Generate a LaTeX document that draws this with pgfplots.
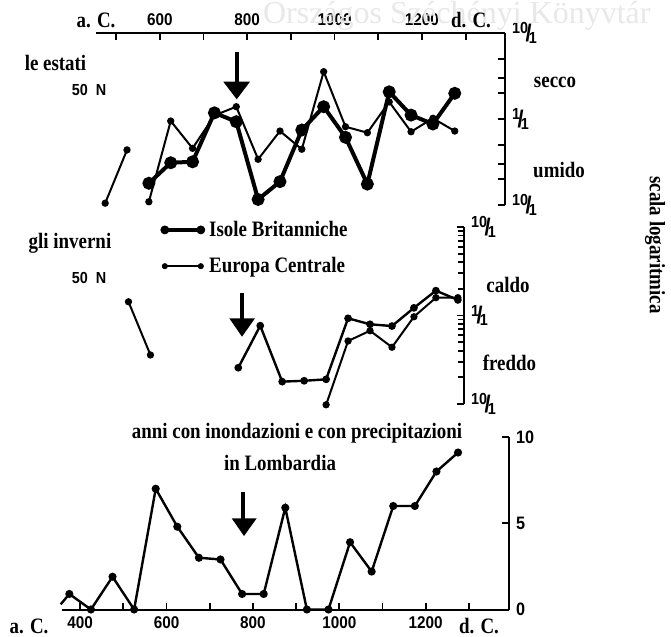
\documentclass[border=0pt]{standalone}
\usepackage{fontspec}
\setmainfont{Liberation Serif}[FakeStretch=0.86]
\newfontfamily\wmfont{Liberation Serif}
\newfontfamily\sansc{Liberation Sans}[FakeStretch=0.9]
\usepackage{pgfplots}
\pgfplotsset{compat=1.18}

\newcommand\lab{\bfseries\fontsize{11}{13}\selectfont}
\newcommand\fr[2]{{\sansc\bfseries\raisebox{0.45em}{\fontsize{8}{8}\selectfont#1}\kern-0.15em{\fontsize{12}{12}\selectfont/}\kern-0.15em\raisebox{-0.12em}{\fontsize{8}{8}\selectfont#2}}}

\pgfplotsset{
  panel/.style={scale only axis, clip=false, anchor=south west,
    tick align=inside, major tick length=3.5pt, minor tick num=0,
    axis line style={line width=1pt,-},
    tick style={line width=0.9pt,black},
    ticklabel style={font=\sansc\bfseries\fontsize{8.5}{9}\selectfont}},
  brit/.style={black, line width=2pt, mark=*, mark size=2.2pt},
  euro/.style={black, line width=1pt, mark=*, mark size=1.3pt},
}

\begin{document}
\begin{tikzpicture}
\useasboundingbox (0,0) rectangle (335.5pt,-318.5pt);

% le estati
\begin{axis}[panel, at={(48pt,-102.5pt)}, width=204.5pt, height=86pt,
  xmin=454, xmax=1390, ymode=log, ymin=0.1, ymax=10,
  axis x line*=top, axis y line*=right,
  xtick={500,600,...,1300}, xticklabels={,600,,800,,1000,,1200,},
  ytick={0.1,0.2,0.3,0.5,1,2,3,5,10},
  yticklabels={\fr{10}{1},,,,\fr{1}{1},,,,\fr{10}{1}}]
\addplot[euro] coordinates {(475,0.105) (525,0.437)};
\addplot[euro] coordinates {(575,0.109) (625,0.948) (675,0.456) (725,1.10)
  (775,1.39) (825,0.340) (875,0.724) (925,0.445) (975,3.55) (1025,0.813)
  (1075,0.693) (1125,1.58) (1175,0.711) (1225,1.02) (1275,0.724)};
\addplot[brit] coordinates {(575,0.179) (625,0.310) (675,0.318) (725,1.18)
  (775,0.93) (825,0.116) (875,0.187) (925,0.745) (975,1.39) (1025,0.612)
  (1075,0.175) (1125,2.07) (1175,1.11) (1225,0.875) (1275,1.99)};
\end{axis}

% gli inverni
\begin{axis}[panel, at={(48pt,-202pt)}, width=184pt, height=88.5pt,
  xmin=451, xmax=1289, ymode=log, ymin=0.1, ymax=10,
  axis x line=none, axis y line*=right, xtick=\empty,
  ytick={0.1,1,10}, yticklabels={\fr{10}{1},\fr{1}{1},\fr{10}{1}},
  legend style={at={(0.174,1.06)}, anchor=north west, draw=none, fill=none,
    inner sep=0pt, row sep=5pt, font=\lab},
  legend cell align=left]
\addlegendimage{legend image code/.code={
  \draw[line width=2pt] (0pt,0pt) -- (18pt,0pt);
  \fill (0pt,0pt) circle (2pt) (18pt,0pt) circle (2pt);}}
\addlegendentry{Isole Britanniche}
\addlegendimage{legend image code/.code={
  \draw[line width=1pt] (0pt,0pt) -- (18pt,0pt);
  \fill (0pt,0pt) circle (1.3pt) (18pt,0pt) circle (1.3pt);}}
\addlegendentry{Europa Centrale}
\addplot[euro, forget plot] coordinates {(525,1.43) (575,0.358)};
\addplot[euro, line width=1.2pt, forget plot] coordinates {(775,0.257) (825,0.767)
  (875,0.179) (925,0.183) (975,0.190) (1025,0.929) (1075,0.796) (1125,0.760)
  (1175,1.22) (1225,1.91) (1275,1.50)};
\addplot[euro, forget plot] coordinates {(975,0.098) (1025,0.515) (1075,0.673)
  (1125,0.438) (1175,0.968) (1225,1.59) (1275,1.59)};
\end{axis}

% Lombardia
\begin{axis}[panel, at={(31pt,-304.75pt)}, width=223.5pt, height=86.25pt,
  xmin=358, xmax=1393, ymin=0, ymax=10,
  axis x line*=bottom, axis y line*=right,
  xtick={400,500,...,1300}, xticklabels={400,,600,,800,,1000,,1200,},
  ytick={0,5,10}, yticklabels={0,5,10},
  yticklabel style={font=\sansc\bfseries\fontsize{9}{10}\selectfont}]
\addplot[black, line width=1.2pt] coordinates {(355,0.3) (375,0.9)};
\addplot[black, line width=1.2pt, mark=*, mark size=1.4pt] coordinates {
  (375,0.9) (425,0) (475,1.9) (525,0) (575,7) (625,4.8) (675,3) (725,2.9)
  (775,0.9) (825,0.9) (875,5.9) (925,0) (975,0) (1025,3.9) (1075,2.2)
  (1125,6) (1175,6) (1225,8) (1275,9.1)};
\end{axis}

\begin{scope}[x=0.5pt, y=-0.5pt]
\node[font=\wmfont\fontsize{16}{17}\selectfont, text=black!9, anchor=west] at (256,16) {Országos Széchényi Könyvtár};
\node[font=\lab] at (96,20) {a. C.};
\node[font=\lab] at (471,20) {d. C.};
\node[font=\lab] at (55.5,63) {le estati};
\node[font=\sansc\bfseries\fontsize{8}{9}\selectfont] at (89,90) {50~~N};
\node[font=\lab] at (555,82) {secco};
\node[font=\lab] at (559,170) {umido};
\node[font=\lab] at (70,243) {gli inverni};
\node[font=\sansc\bfseries\fontsize{8}{9}\selectfont] at (89,278) {50~~N};
\node[font=\lab] at (508,285) {caldo};
\node[font=\lab] at (509.5,363) {freddo};
\node[font=\lab] at (297,433) {anni con inondazioni e con precipitazioni};
\node[font=\lab] at (280,463) {in Lombardia};
\node[font=\lab] at (29,626) {a. C.};
\node[font=\lab] at (479,626) {d. C.};
\node[font=\lab, rotate=-90] at (655,245) {scala logaritmica};
% arrows
\fill (234.7,52) rectangle (238.7,83);
\fill (223.3,81.7) -- (250,81.7) -- (236.7,99.3) -- cycle;
\fill (239.7,293) rectangle (243.7,319);
\fill (229.3,318.3) -- (255,318.3) -- (242,336.7) -- cycle;
\fill (241.3,492) rectangle (245.3,519);
\fill (231.7,518.3) -- (256.7,518.3) -- (244,536) -- cycle;
\end{scope}
\end{tikzpicture}
\end{document}
